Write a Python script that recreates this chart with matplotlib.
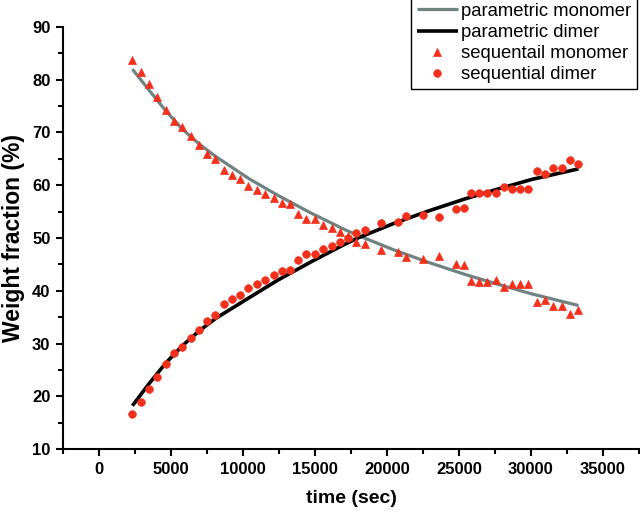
import numpy as np
import matplotlib
matplotlib.use("Agg")
import matplotlib.pyplot as plt
from matplotlib.ticker import MultipleLocator

plt.rcParams['font.family'] = ['Liberation Sans', 'DejaVu Sans']

# sampled time points (sec), shared by both sequential series
t_seq = [2320, 2900, 3480, 4060, 4620, 5200, 5780, 6360, 6940, 7520,
         8080, 8650, 9210, 9800, 10370, 10950, 11540, 12120, 12690, 13250,
         13830, 14410, 14990, 15580, 16150, 16710, 17290, 17870, 18450, 19610,
         20770, 21350, 22470, 23620, 24790, 25340, 25810, 26390, 26970, 27550,
         28130, 28690, 29260, 29820, 30400, 30980, 31560, 32150, 32720, 33300]

seq_monomer = [83.8, 81.5, 79.1, 76.7, 74.2, 72.2, 71.0, 69.3, 67.7, 66.0,
               65.0, 62.9, 62.0, 61.2, 59.9, 59.1, 58.4, 57.6, 56.7, 56.5,
               54.6, 53.6, 53.6, 52.5, 51.9, 51.2, 50.4, 49.3, 48.8, 47.8,
               47.4, 46.4, 46.1, 46.5, 45.1, 44.8, 41.8, 41.7, 41.7, 42.0,
               40.7, 41.2, 41.2, 41.2, 37.8, 38.3, 37.2, 37.2, 35.6, 36.4]

seq_dimer = [16.6, 18.9, 21.3, 23.7, 26.2, 28.2, 29.3, 31.1, 32.6, 34.3,
             35.4, 37.5, 38.4, 39.2, 40.5, 41.3, 42.1, 42.9, 43.7, 44.0,
             45.9, 46.9, 46.9, 47.9, 48.5, 49.2, 50.0, 51.0, 51.6, 52.8,
             53.0, 54.1, 54.4, 54.0, 55.4, 55.6, 58.6, 58.6, 58.6, 58.5,
             59.7, 59.2, 59.2, 59.2, 62.7, 62.1, 63.3, 63.2, 64.8, 64.1]

t_fit = [2320, 3480, 4640, 5800, 6960, 8130, 10440, 12410, 14740, 17060,
         17980, 20420, 22750, 25410, 27730, 30060, 33300]
fit_monomer = [82.0, 78.0, 74.1, 70.6, 67.8, 65.4, 61.2, 58.1, 54.7, 51.6,
               50.5, 47.8, 45.5, 43.1, 41.2, 39.4, 37.2]
fit_dimer = [18.2, 22.4, 26.3, 29.6, 32.4, 34.8, 38.7, 42.0, 45.5, 48.8,
             50.0, 52.7, 55.0, 57.4, 59.3, 61.1, 63.1]

red = '#f2301c'

fig = plt.figure(figsize=(6.4, 5.16), dpi=100)
ax = fig.add_axes([0.0984, 0.1298, 0.9, 0.818])

ax.plot(t_fit, fit_monomer, color='#6f8383', lw=2.3, label='parametric monomer',
        solid_capstyle='butt', solid_joinstyle='round', zorder=2)
ax.plot(t_fit, fit_dimer, color='black', lw=2.6, label='parametric dimer',
        solid_capstyle='butt', solid_joinstyle='round', zorder=2)
ax.plot(t_seq, seq_monomer, ls='none', marker='^', ms=6, mew=0.5, color=red,
        mec=red, label='sequentail monomer', zorder=3)
ax.plot(t_seq, seq_dimer, ls='none', marker='o', ms=5.5, mew=0.5, color=red,
        mec=red, label='sequential dimer', zorder=3)

ax.set_xlim(-2500, 37500)
ax.set_ylim(10, 90)
ax.xaxis.set_major_locator(MultipleLocator(5000))
ax.xaxis.set_minor_locator(MultipleLocator(2500))
ax.yaxis.set_major_locator(MultipleLocator(10))
ax.yaxis.set_minor_locator(MultipleLocator(5))

for s in ['top', 'right']:
    ax.spines[s].set_visible(False)
for s in ['left', 'bottom']:
    ax.spines[s].set_linewidth(1.5)

ax.tick_params(which='major', direction='out', length=5, width=1.5,
               labelsize=12, pad=4)
ax.tick_params(which='minor', direction='out', length=3.5, width=1.5)
# the -2500 tick has no label in the original
ax.set_xticks([0, 5000, 10000, 15000, 20000, 25000, 30000, 35000])
for lab in ax.get_xticklabels() + ax.get_yticklabels():
    lab.set_fontweight('bold')

ax.set_xlabel('time (sec)', fontsize=14, fontweight='bold', labelpad=10)
ax.set_ylabel('Weight fraction (%)', fontsize=16.5, fontweight='bold', labelpad=5)

leg = ax.legend(loc='upper right', bbox_to_anchor=(637 / 640, 1.005),
                bbox_transform=fig.transFigure, borderaxespad=0,
                fontsize=13.3, handlelength=2.2, handletextpad=0.2,
                labelspacing=0.22, borderpad=0.3, fancybox=False,
                framealpha=1, edgecolor='black')
leg.get_frame().set_linewidth(1.0)

fig.savefig('out.png', dpi=100)
